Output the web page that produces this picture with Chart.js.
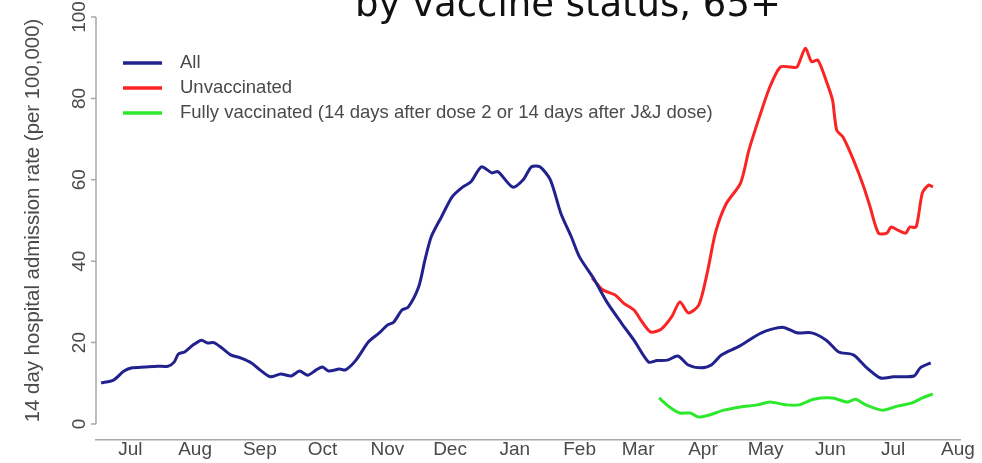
<!DOCTYPE html>
<html>
<head>
<meta charset="utf-8">
<script src="https://cdn.jsdelivr.net/npm/chart.js@4"></script>
<style>
  body { margin: 0; background: #fff; }
  canvas { display: block; }
</style>
</head>
<body>
<canvas id="admissionchart" width="982" height="463"></canvas>
<script>
// Days counted from 1 Jul 2020
const allDays = [0, 6, 11, 15, 21, 27, 32, 35, 37, 40, 44, 48, 51, 54, 58, 62, 67, 72, 76, 81, 86, 91, 95, 99, 103, 106, 109, 114, 117, 122, 128, 133, 137, 140, 144, 147, 152, 155, 158, 163, 168, 173, 177, 182, 187, 190, 197, 202, 206, 210, 215, 220, 225, 229, 236, 242, 249, 255, 262, 266, 271, 276, 281, 287, 292, 297, 305, 316, 326, 333, 340, 347, 353, 360, 366, 373, 379, 389, 392, 397];
const allRate = [10.1, 10.8, 13, 13.8, 14, 14.2, 14.2, 15.2, 17.2, 17.7, 19.4, 20.6, 19.9, 20, 18.6, 17, 16.2, 15, 13.3, 11.6, 12.3, 11.8, 13, 12, 13.3, 14, 13, 13.5, 13.3, 15.7, 20.2, 22.3, 24.3, 25, 28, 28.7, 33.7, 40.3, 46, 51, 55.8, 58.2, 59.5, 63.2, 61.7, 62, 58.2, 60, 63.2, 63.2, 60, 51.8, 46, 41, 35.5, 30, 24.8, 20.6, 15.2, 15.6, 15.7, 16.7, 14.5, 13.8, 14.5, 17, 19, 22.4, 23.8, 22.4, 22.4, 20.6, 17.7, 17, 14, 11.3, 11.6, 11.8, 13.8, 15];

const unvaxDays = [235, 240, 246, 250, 255, 259, 263, 268, 273, 277, 281, 286, 290, 294, 299, 306, 310, 315, 320, 325, 330, 333, 337, 340, 343, 347, 350, 352, 355, 360, 365, 368, 372, 376, 378, 381, 385, 387, 390, 393, 396, 398];
const unvaxRate = [35.9, 33, 31.7, 29.7, 28, 25, 22.6, 23.3, 26.3, 30, 27.3, 29.2, 37, 47, 54, 59.2, 67.3, 75.4, 82.8, 87.7, 87.7, 87.7, 92.3, 89, 89.4, 84.3, 79.6, 72.2, 70.5, 64.9, 58.2, 53.3, 46.9, 46.9, 48.4, 47.7, 46.9, 48.4, 48.4, 56.8, 58.7, 58.2];

const fullyDays = [267, 272, 277, 282, 286, 291, 298, 306, 314, 320, 328, 334, 341, 350, 357, 361, 366, 374, 381, 388, 393, 398];
const fullyRate = [6.4, 4.2, 2.7, 2.7, 1.7, 2.2, 3.4, 4.2, 4.7, 5.4, 4.7, 4.7, 6.1, 6.4, 5.4, 6.1, 4.7, 3.4, 4.4, 5.2, 6.4, 7.4];

// Month labels sit at the middle of each month
const monthTickDays = [14, 45, 76, 106, 137, 167, 198, 229, 257, 288, 318, 349, 379, 410];
const monthLabels = ['Jul', 'Aug', 'Sep', 'Oct', 'Nov', 'Dec', 'Jan', 'Feb', 'Mar', 'Apr', 'May', 'Jun', 'Jul', 'Aug'];
const yTicks = [0, 20, 40, 60, 80, 100];

const seriesNames = ['All', 'Unvaccinated', 'Fully vaccinated (14 days after dose 2 or 14 days after J&J dose)'];
const seriesColors = ['#22228f', '#fa2424', '#2ee82e'];

const toPoints = (days, vals) => days.map((d, i) => ({x: d, y: vals[i]}));

// Setup block
const admissionData = {
    datasets: [
        {label: seriesNames[0], data: toPoints(allDays, allRate), borderColor: seriesColors[0]},
        {label: seriesNames[1], data: toPoints(unvaxDays, unvaxRate), borderColor: seriesColors[1]},
        {label: seriesNames[2], data: toPoints(fullyDays, fullyRate), borderColor: seriesColors[2]},
    ]
};

// Draws the R-style pieces: detached y axis, rotated labels, legend, slide title
const extrasPlugin = {
    id: 'extras',
    afterDraw(chart) {
        const ctx = chart.ctx;
        const area = chart.chartArea;
        const y = chart.scales.y;
        const top = y.getPixelForValue(100);
        const zero = y.getPixelForValue(0);
        ctx.save();

        // y axis line and ticks
        ctx.strokeStyle = '#a8a8a8';
        ctx.lineWidth = 1.5;
        ctx.beginPath();
        ctx.moveTo(area.left, top);
        ctx.lineTo(area.left, zero);
        yTicks.forEach(v => {
            const p = y.getPixelForValue(v);
            ctx.moveTo(area.left - 5, p);
            ctx.lineTo(area.left, p);
        });
        ctx.stroke();

        // rotated tick labels
        ctx.fillStyle = '#4a4a4a';
        ctx.font = '19px "Liberation Sans", Arial, sans-serif';
        ctx.textAlign = 'center';
        ctx.textBaseline = 'middle';
        yTicks.forEach(v => {
            ctx.save();
            ctx.translate(area.left - 16, y.getPixelForValue(v));
            ctx.rotate(-Math.PI / 2);
            ctx.fillText(String(v), 0, 0);
            ctx.restore();
        });

        // axis title
        ctx.save();
        ctx.font = '20.4px "Liberation Sans", Arial, sans-serif';
        ctx.translate(33, (top + zero) / 2);
        ctx.rotate(-Math.PI / 2);
        ctx.fillText('14 day hospital admission rate (per 100,000)', 0, 0);
        ctx.restore();

        // legend
        ctx.font = '18.5px "Liberation Sans", Arial, sans-serif';
        ctx.textAlign = 'left';
        ctx.lineWidth = 3.5;
        seriesNames.forEach((name, i) => {
            const rowY = area.top + 46 + i * 25;
            ctx.strokeStyle = seriesColors[i];
            ctx.beginPath();
            ctx.moveTo(area.left + 27, rowY);
            ctx.lineTo(area.left + 66, rowY);
            ctx.stroke();
            ctx.fillStyle = '#4a4a4a';
            ctx.fillText(name, area.left + 84, rowY);
        });

        // slide title, cut by the top edge
        ctx.fillStyle = '#111';
        ctx.font = '37px "DejaVu Sans", sans-serif';
        ctx.textBaseline = 'alphabetic';
        ctx.fillText('by vaccine status, 65+', 355, 16);
        ctx.restore();
    }
};

// Config block
const admissionConfig = {
    type: 'line',
    data: admissionData,
    options: {
        responsive: false,
        devicePixelRatio: 1,
        animation: false,
        layout: {padding: {left: 96, right: 22, top: 17, bottom: 4}},
        elements: {
            line: {borderWidth: 3, tension: 0.25},
            point: {radius: 0}
        },
        plugins: {
            legend: {display: false},
            title: {display: false},
            tooltip: {enabled: false}
        },
        scales: {
            x: {
                type: 'linear',
                min: -2.4,
                max: 411,
                grid: {display: false, drawTicks: false},
                border: {display: true, color: '#a8a8a8', width: 1.5},
                afterBuildTicks: scale => {
                    scale.ticks = monthTickDays.map(v => ({value: v}));
                },
                ticks: {
                    autoSkip: false,
                    maxRotation: 0,
                    padding: 0,
                    color: '#4a4a4a',
                    font: {family: '"Liberation Sans", Arial, sans-serif', size: 19, lineHeight: 1},
                    callback: (value, index) => monthLabels[index]
                }
            },
            y: {
                display: false,
                min: -3.93,
                max: 100
            }
        }
    },
    plugins: [extrasPlugin]
};

// render / init block
const admissionChart = new Chart(
    document.getElementById('admissionchart'),
    admissionConfig
);
</script>
</body>
</html>
